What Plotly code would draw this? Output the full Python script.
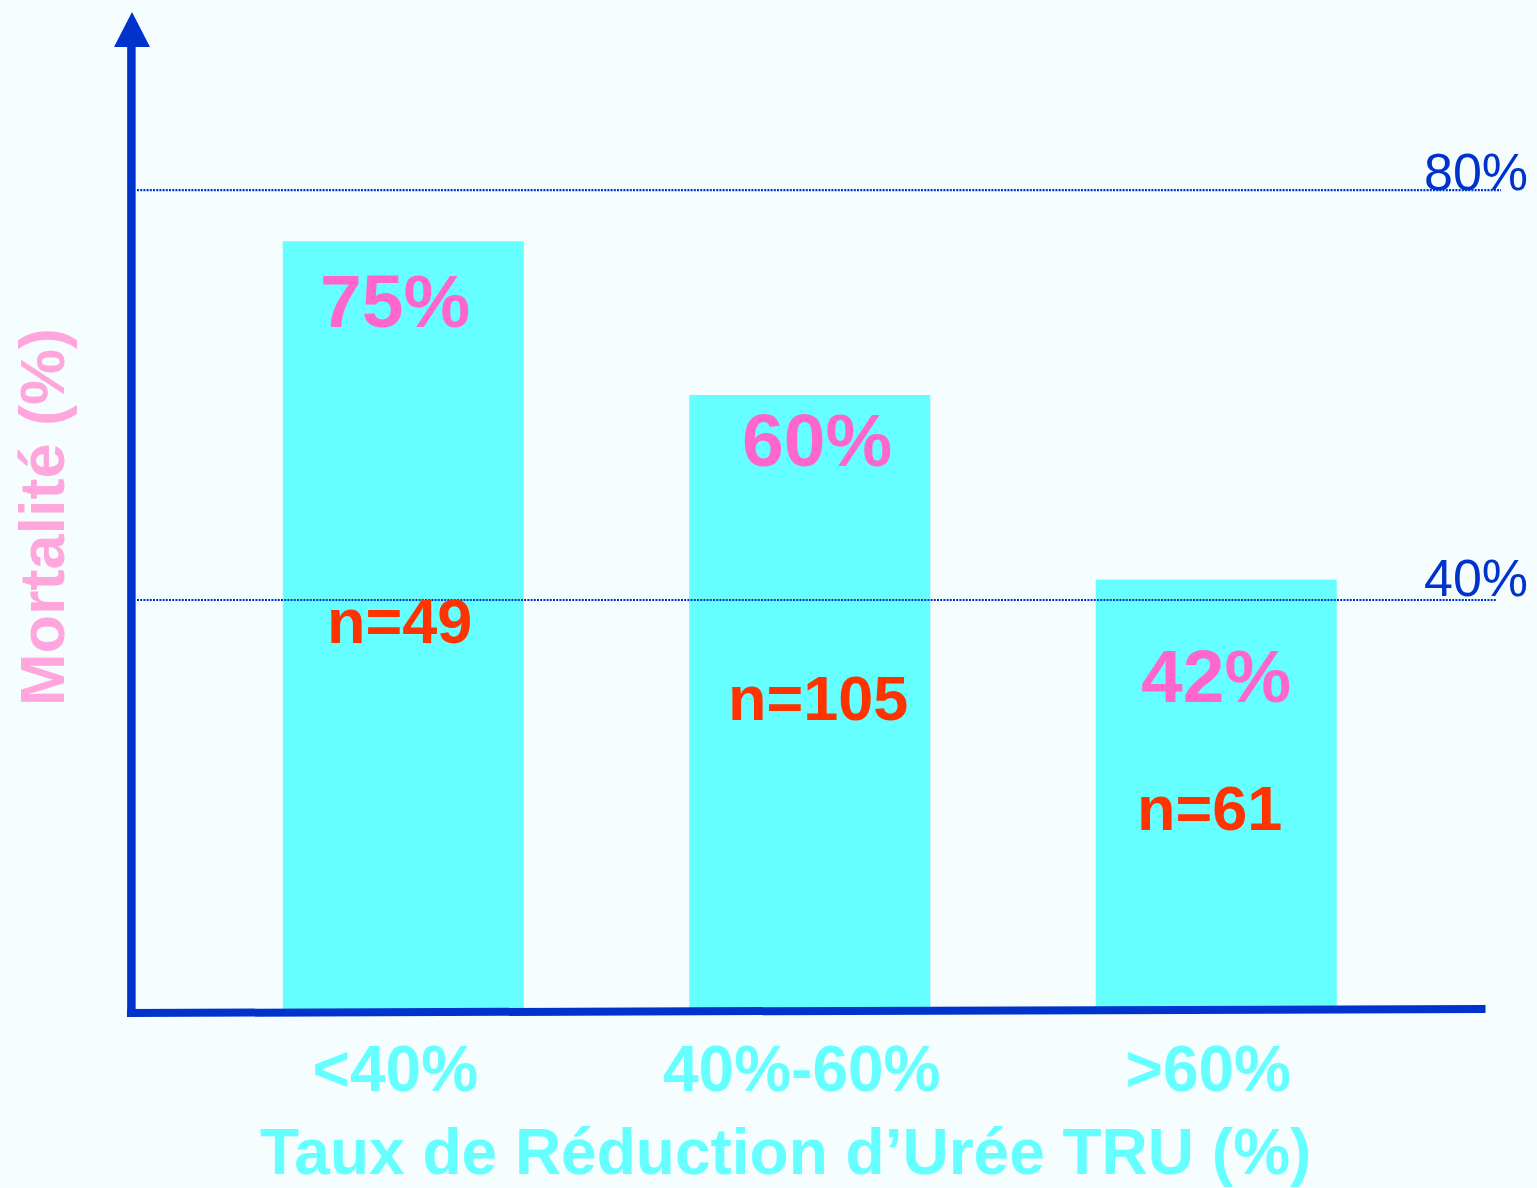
import plotly.graph_objects as go

# Mortality by urea reduction ratio class
categories = ["<40%", "40%-60%", ">60%"]
mortality = [75, 60, 42]
patients = [49, 105, 61]
grid_levels = [80, 40]

BLUE = "#0033CC"
CYAN = "#66FFFF"
PINK = "#FF66CC"
LIGHT_PINK = "#FFA6DD"
RED = "#FF3300"
BG = "#F5FDFF"
FONT = "Liberation Sans, Arial, sans-serif"

W_FIG, H_FIG = 1537, 1188
L, R, T, B = 130, 52, 12, 178
PW, PH = W_FIG - L - R, H_FIG - T - B


def px(x):
    """pixel x -> paper x"""
    return (x - L) / PW


def py(y):
    """pixel y (from top) -> paper y"""
    return (H_FIG - B - y) / PH


fig = go.Figure()
fig.add_trace(go.Bar(
    x=categories,
    y=mortality,
    width=0.593,
    marker=dict(color=CYAN, line=dict(width=0)),
    hoverinfo="skip",
))

shapes = []
# dotted reference lines at 80% and 40%
for lvl, xend in zip(grid_levels, [1501, 1497]):
    shapes.append(dict(type="line", xref="paper", yref="y",
                       x0=px(137), x1=px(xend), y0=lvl, y1=lvl,
                       line=dict(color=BLUE, width=2.2, dash="2px,1.2px"),
                       layer="above"))
# axes drawn as thick lines, the vertical one ending in an arrow head
shapes.append(dict(type="line", xref="paper", yref="paper",
                   x0=px(131.4), x1=px(131.4), y0=py(1017), y1=py(45),
                   line=dict(color=BLUE, width=8.5), layer="above"))
shapes.append(dict(type="line", xref="paper", yref="paper",
                   x0=px(127), x1=px(1485.5), y0=py(1013), y1=py(1009),
                   line=dict(color=BLUE, width=8), layer="above"))
shapes.append(dict(type="path", xref="paper", yref="paper",
                   path=f"M {px(114)},{py(47)} L {px(150)},{py(47)} L {px(132)},{py(12)} Z",
                   fillcolor=BLUE, line=dict(width=0), layer="above"))

annotations = []
# value and sample-size labels inside the bars
value_pos = [(395, 301), (816.5, 440), (1216, 676)]
n_pos = [(399, 621), (817.5, 698), (1209, 808)]
for v, n, (vx, vy), (nx, ny) in zip(mortality, patients, value_pos, n_pos):
    annotations.append(dict(xref="paper", yref="paper", x=px(vx), y=py(vy),
                            text=f"<b>{v}%</b>", showarrow=False,
                            xanchor="center", yanchor="middle",
                            font=dict(family=FONT, size=75, color=PINK)))
    annotations.append(dict(xref="paper", yref="paper", x=px(nx), y=py(ny),
                            text=f"<b>n={n}</b>", showarrow=False,
                            xanchor="center", yanchor="middle",
                            font=dict(family=FONT, size=63, color=RED)))
# reference line labels
for lvl, ycap in zip(grid_levels, [171.5, 578.5]):
    annotations.append(dict(xref="paper", yref="paper", x=px(1530), y=py(ycap),
                            text=f"{lvl}%", showarrow=False,
                            xanchor="right", yanchor="middle",
                            font=dict(family=FONT, size=52, color=BLUE)))
# axis titles
annotations.append(dict(xref="paper", yref="paper", x=px(785), y=py(1152),
                        text="<b>Taux de Réduction d’Urée TRU (%)</b>",
                        showarrow=False, xanchor="center", yanchor="middle",
                        font=dict(family=FONT, size=64, color=CYAN)))
annotations.append(dict(xref="paper", yref="paper", x=px(42), y=py(517),
                        text="<b>Mortalité (%)</b>", textangle=-90,
                        showarrow=False, xanchor="center", yanchor="middle",
                        font=dict(family=FONT, size=63, color=LIGHT_PINK)))

fig.update_layout(
    width=W_FIG, height=H_FIG,
    margin=dict(l=L, r=R, t=T, b=B, pad=0),
    paper_bgcolor=BG, plot_bgcolor=BG,
    showlegend=False,
    shapes=shapes,
    annotations=annotations,
    xaxis=dict(
        type="category",
        range=[-0.6724, 2.6612],
        showgrid=False, zeroline=False, showline=False, ticks="",
        tickfont=dict(family=FONT, size=64, color=CYAN),
        tickprefix="<b>", ticksuffix="</b>",
        ticklabelstandoff=16, ticklabelshift=-8,
    ),
    yaxis=dict(
        range=[0, 97.37],
        showgrid=False, zeroline=False, showline=False,
        showticklabels=False, ticks="",
    ),
)

fig.write_html("out.html")
